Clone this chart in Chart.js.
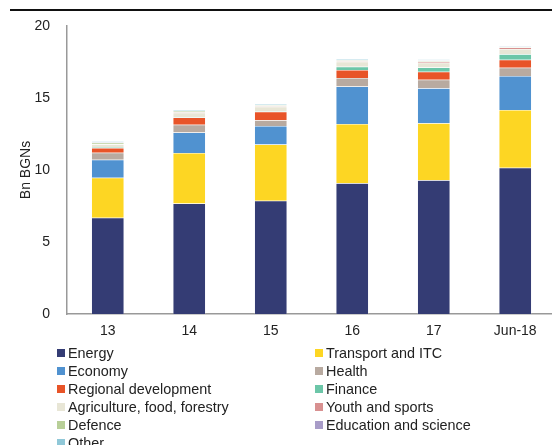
<!DOCTYPE html>
<html>
<head>
<meta charset="utf-8">
<script src="https://cdn.jsdelivr.net/npm/chart.js@4.4.1/dist/chart.umd.min.js"></script>
<style>
  html, body { margin: 0; padding: 0; background: #fff; }
  #wrap { position: relative; width: 552px; height: 445px; overflow: hidden; font-family: "Liberation Sans", Arial, sans-serif; }
  #chartBox { position: absolute; left: 0; top: 0; width: 556px; height: 345px; }
  #legend { position: absolute; left: 57px; top: 344px; width: 495px; display: grid; grid-template-columns: 258px 237px; grid-auto-rows: 18px; font-size: 14.4px; color: #222; }
  #legend div { display: flex; align-items: center; white-space: nowrap; }
  #legend span.box { display: inline-block; width: 8px; height: 8px; margin-right: 3px; }
</style>
</head>
<body>
<div id="wrap">
  <div id="chartBox"><canvas id="budgetChart"></canvas></div>
  <div id="legend"></div>
</div>
<script>
// Categorias e valores (bn BGN)
const years = ['13', '14', '15', '16', '17', 'Jun-18'];
const yTicks = [0, 5, 10, 15, 20];

const energy      = [6.69, 7.68, 7.86, 9.08, 9.29, 10.16];
const transport   = [2.78, 3.50, 3.91, 4.11, 3.95, 4.00];
const economy     = [1.24, 1.43, 1.28, 2.60, 2.43, 2.37];
const health      = [0.48, 0.53, 0.41, 0.60, 0.60, 0.57];
const regional    = [0.34, 0.50, 0.58, 0.55, 0.55, 0.55];
const finance     = [0.05, 0.04, 0.04, 0.23, 0.30, 0.39];
const agriculture = [0.20, 0.30, 0.32, 0.34, 0.32, 0.37];
const youth       = [0.03, 0.03, 0.03, 0.04, 0.10, 0.09];
const defence     = [0.08, 0.08, 0.06, 0.08, 0.06, 0.06];
const education   = [0.03, 0.03, 0.03, 0.03, 0.03, 0.02];
const other       = [0.07, 0.05, 0.05, 0.05, 0.05, 0.04];

const series = [
  { label: 'Energy', data: energy, color: '#343c74' },
  { label: 'Transport and ITC', data: transport, color: '#fdd623' },
  { label: 'Economy', data: economy, color: '#5092d0' },
  { label: 'Health', data: health, color: '#b8aaa0' },
  { label: 'Regional development', data: regional, color: '#e85428' },
  { label: 'Finance', data: finance, color: '#6cc6a8' },
  { label: 'Agriculture, food, forestry', data: agriculture, color: '#e8e6d6' },
  { label: 'Youth and sports', data: youth, color: '#d89090' },
  { label: 'Defence', data: defence, color: '#b8cf98' },
  { label: 'Education and science', data: education, color: '#a89cc8' },
  { label: 'Other', data: other, color: '#90c8d8' }
];

// Linha preta no topo
const topLine = {
  id: 'topLine',
  beforeDraw(chart) {
    const ctx = chart.ctx;
    ctx.save();
    ctx.strokeStyle = '#111';
    ctx.lineWidth = 2;
    ctx.beginPath();
    ctx.moveTo(10, 10);
    ctx.lineTo(556, 10);
    ctx.stroke();
    ctx.restore();
  }
};

const ctx = document.getElementById('budgetChart').getContext('2d');
const budgetChart = new Chart(ctx, {
  type: 'bar',
  data: {
    labels: years,
    datasets: series.map(s => ({
      label: s.label,
      data: s.data,
      backgroundColor: s.color,
      borderColor: 'rgba(255,255,255,0.5)',
      borderWidth: 0.5,
      barPercentage: 0.4,
      categoryPercentage: 1
    }))
  },
  options: {
    responsive: true,
    maintainAspectRatio: false,
    animation: false,
    layout: { padding: { top: 26, right: 0, left: 0, bottom: 0 } },
    plugins: {
      legend: { display: false },
      tooltip: { enabled: false }
    },
    scales: {
      x: {
        stacked: true,
        grid: { display: false, drawTicks: false },
        border: { color: '#999', width: 1.5 },
        ticks: { color: '#222', font: { size: 14, family: 'Liberation Sans' }, padding: 9 },
        afterFit(scale) { scale.height = 31; }
      },
      y: {
        stacked: true,
        min: 0,
        max: 20,
        afterBuildTicks(scale) { scale.ticks = yTicks.map(v => ({ value: v })); },
        grid: { display: false, drawTicks: false },
        border: { color: '#999', width: 1.5 },
        ticks: { color: '#222', font: { size: 14, family: 'Liberation Sans' }, padding: 17 },
        title: { display: true, text: 'Bn BGNs', color: '#222', font: { size: 14, family: 'Liberation Sans' }, padding: { top: 18, bottom: 0 } },
        afterFit(scale) { scale.width = 67; }
      }
    }
  },
  plugins: [topLine]
});

// Legenda em duas colunas
const legendEl = document.getElementById('legend');
series.forEach(s => {
  const item = document.createElement('div');
  item.innerHTML = `<span class="box" style="background:${s.color}"></span>${s.label}`;
  legendEl.appendChild(item);
});
</script>
</body>
</html>
